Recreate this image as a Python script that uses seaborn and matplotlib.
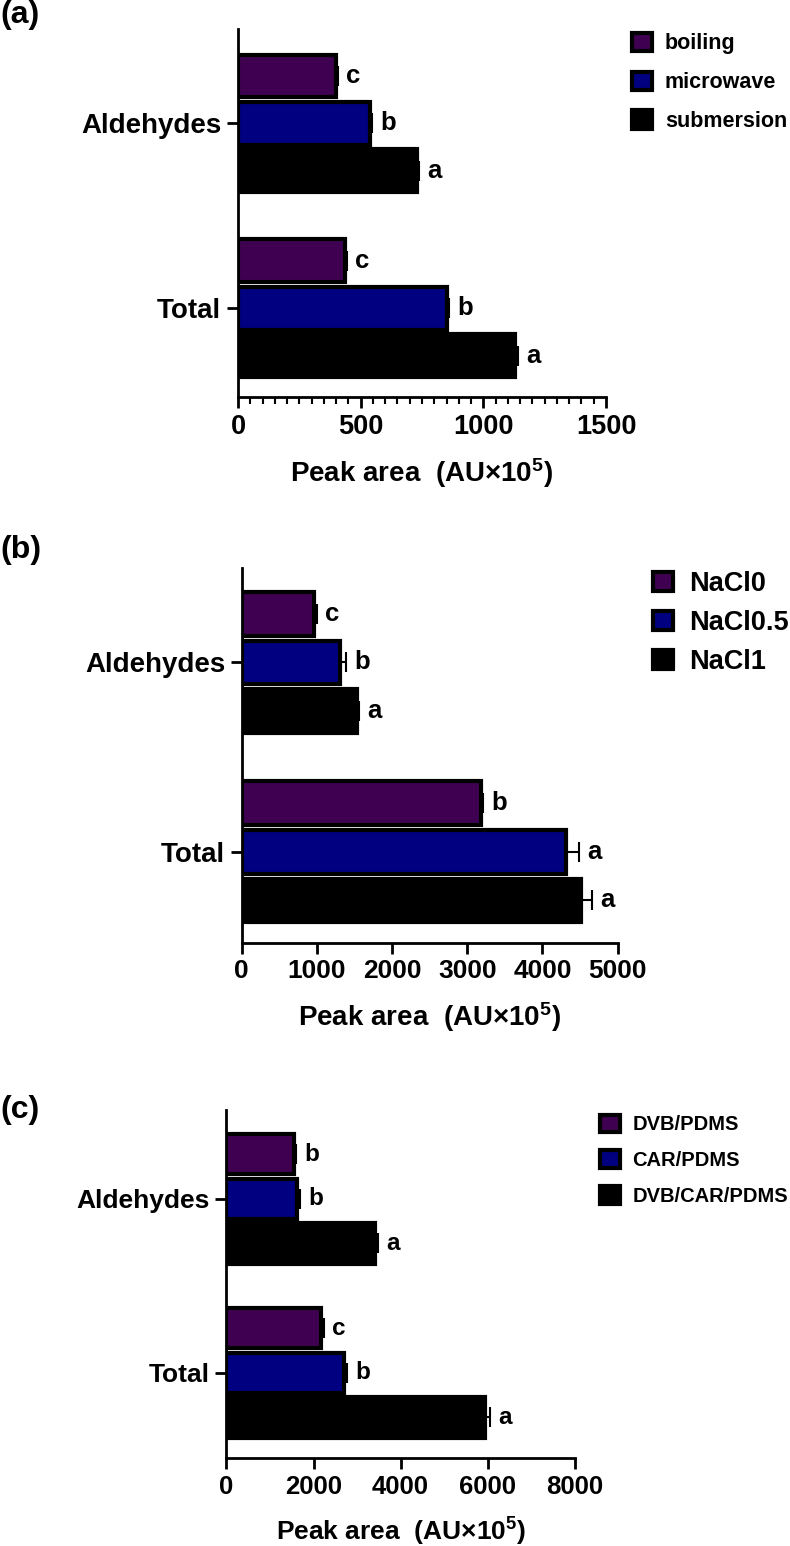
import matplotlib
matplotlib.use('Agg')
import matplotlib.pyplot as plt
from matplotlib.ticker import MultipleLocator
import seaborn as sns
import pandas as pd

# shared categories
categories = ['Aldehydes', 'Total']

# panel (a): cooking method
methods_a = ['boiling', 'microwave', 'submersion']
boiling_a = [398, 435]
microwave_a = [538, 852]
submersion_a = [728, 1130]
err_a = [[8, 8], [9, 9], [8, 11]]
letters_a = [['c', 'c'], ['b', 'b'], ['a', 'a']]

# panel (b): salt
methods_b = ['NaCl0', 'NaCl0.5', 'NaCl1']
nacl0_b = [966, 3183]
nacl05_b = [1307, 4310]
nacl1_b = [1534, 4509]
err_b = [[30, 31], [76, 181], [27, 146]]
letters_b = [['c', 'b'], ['b', 'a'], ['a', 'a']]

# panel (c): fibre
methods_c = ['DVB/PDMS', 'CAR/PDMS', 'DVB/CAR/PDMS']
dvb_c = [1558, 2171]
car_c = [1620, 2700]
dvbcar_c = [3412, 5932]
err_c = [[46, 69], [62, 69], [69, 129]]
letters_c = [['b', 'c'], ['b', 'b'], ['a', 'a']]

colors = ['#400052', '#000080', '#000000']

sns.set_style('ticks')
plt.rcParams['font.family'] = ['Liberation Sans', 'DejaVu Sans']
plt.rcParams['font.weight'] = 'bold'
plt.rcParams['mathtext.fontset'] = 'custom'
plt.rcParams['mathtext.bf'] = 'Liberation Sans:bold'
plt.rcParams['mathtext.rm'] = 'Liberation Sans:bold'
plt.rcParams['mathtext.default'] = 'bf'
for k in ['text.color', 'axes.labelcolor', 'xtick.color', 'ytick.color',
          'axes.edgecolor']:
    plt.rcParams[k] = 'black'


def make_df(methods, series):
    rows = []
    for m, vals in zip(methods, series):
        for c, v in zip(categories, vals):
            rows.append({'Category': c, 'Method': m, 'Peak': v})
    return pd.DataFrame(rows)


def panel(fig, rect, methods, series, errs, letters, xmax, xstep, ylim,
          fs, tfs, leg_fs, leg_pos, leg_sp, minor=None):
    ax = fig.add_axes(rect)
    df = make_df(methods, series)
    sns.barplot(data=df, y='Category', x='Peak', hue='Method', orient='h',
                order=categories, hue_order=methods, palette=colors,
                saturation=1, errorbar=None, width=0.77, gap=0.1,
                edgecolor='black', linewidth=3, ax=ax)
    bar_conts = list(ax.containers)
    for i, cont in enumerate(bar_conts):
        for j, bar in enumerate(cont):
            v = bar.get_width()
            yc = bar.get_y() + bar.get_height() / 2
            e = errs[i][j]
            ax.errorbar(v, yc, xerr=[[0], [e]], fmt='none', ecolor='black',
                        elinewidth=1.5, capsize=7, capthick=1.5)
            ax.annotate(letters[i][j], (v + e, yc), xytext=(6, 0),
                        textcoords='offset points', va='center', ha='left',
                        fontsize=fs - 1.5, fontweight='bold')
    ax.set_xlim(0, xmax)
    ax.set_ylim(*ylim)
    ax.xaxis.set_major_locator(MultipleLocator(xstep))
    if minor:
        ax.xaxis.set_minor_locator(MultipleLocator(minor))
        ax.tick_params(axis='x', which='minor', length=5, width=1.5)
    ax.tick_params(axis='both', which='major', length=8, width=2, pad=4)
    ax.tick_params(axis='x', labelsize=tfs)
    ax.tick_params(axis='y', labelsize=fs)
    for lab in ax.get_xticklabels() + ax.get_yticklabels():
        lab.set_fontweight('bold')
    for s in ['left', 'bottom']:
        ax.spines[s].set_linewidth(2)
    sns.despine(ax=ax)
    ax.set_ylabel('')
    ax.set_xlabel('Peak area  (AU×10$^{5}$)', fontsize=fs, fontweight='bold',
                  labelpad=12)
    hsize = 20 / (leg_fs * 100 / 72)
    handles, labels = ax.get_legend_handles_labels()
    ax.legend(handles, labels, loc='upper left', bbox_to_anchor=leg_pos,
              bbox_transform=fig.transFigure, frameon=False,
              prop={'size': leg_fs, 'weight': 'bold'}, handlelength=hsize,
              handleheight=hsize, handletextpad=0.6, labelspacing=leg_sp,
              borderpad=0, borderaxespad=0)
    return ax


fig = plt.figure(figsize=(7.9, 15.46), dpi=100)

panel(fig, [0.3013, 0.7432, 0.4658, 0.238], methods_a,
      [boiling_a, microwave_a, submersion_a], err_a, letters_a,
      1500, 500, (1.48, -0.51), 20, 19.5, 15.5, (0.80, 0.9787), 0.8,
      minor=50)
panel(fig, [0.306, 0.3902, 0.4758, 0.2426], methods_b,
      [nacl0_b, nacl05_b, nacl1_b], err_b, letters_b,
      5000, 1000, (1.48, -0.50), 20, 19, 19.5, (0.8266, 0.6307), 0.48)
panel(fig, [0.2867, 0.0569, 0.4408, 0.2251], methods_c,
      [dvb_c, car_c, dvbcar_c], err_c, letters_c,
      8000, 2000, (1.49, -0.51), 19, 18.5, 14.5, (0.760, 0.2791), 0.8)

fig.text(0.0, 1.0, '(a)', fontsize=23, fontweight='bold', va='top', ha='left')
fig.text(0.0, 1 - 535 / 1546, '(b)', fontsize=23, fontweight='bold', va='top', ha='left')
fig.text(0.0, 1 - 1095 / 1546, '(c)', fontsize=23, fontweight='bold', va='top', ha='left')

fig.savefig('out.png', dpi=100)
